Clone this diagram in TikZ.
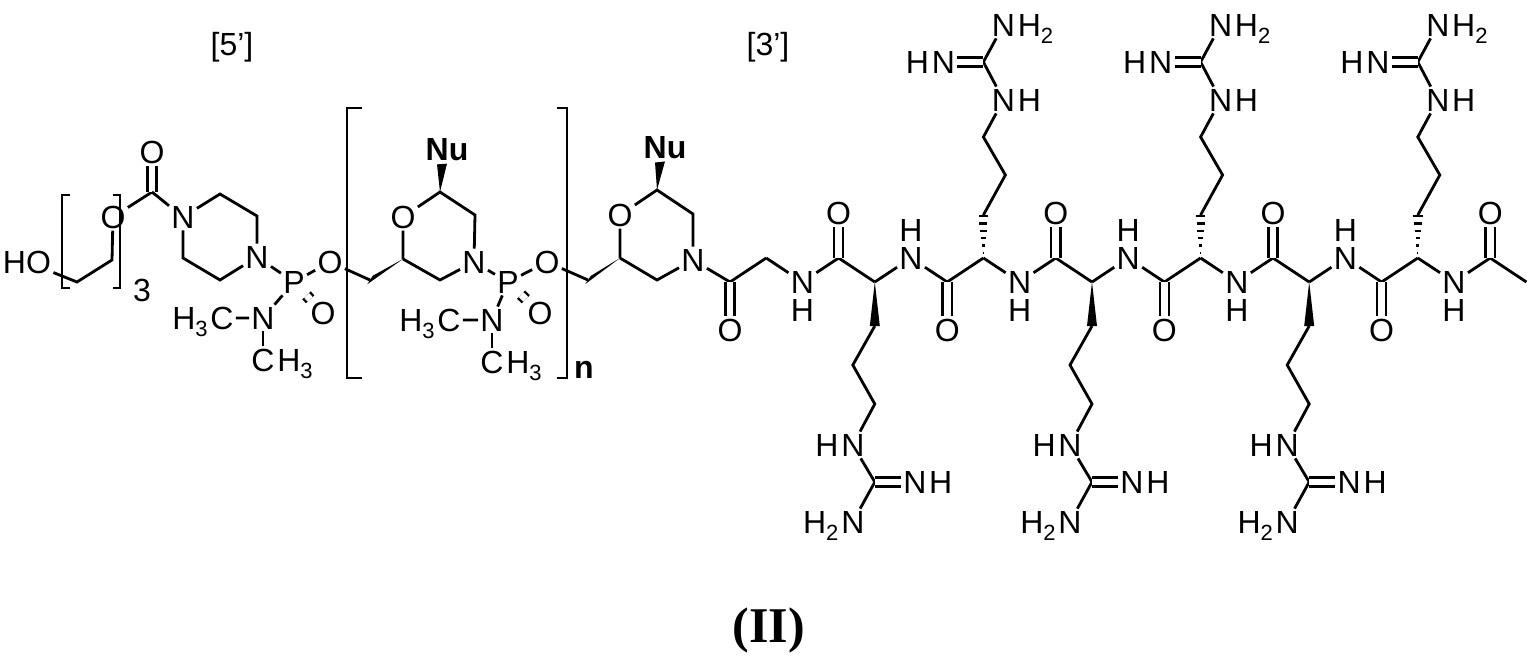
\documentclass[tikz,border=0pt]{standalone}
\usepackage{fontspec}
\setmainfont{Liberation Sans}
\newfontfamily\tnr{Liberation Serif}
\usetikzlibrary{calc}
\newcommand\sbs[1]{\raisebox{-0.45ex}{\fontsize{11}{11}\selectfont #1}}
\newcommand\wdg[3]{\fill let \p1=(#1),\p2=(#2),\n1={atan2(\y2-\y1,\x2-\x1)} in (\p1) -- ($(\p2)+({\n1+90}:#3)$) -- ($(\p2)+({\n1-90}:#3)$) -- cycle;}
\newcommand\hsh[2]{\foreach \t in {0.12,0.29,0.46,0.63,0.8,0.97}{\draw[line width=1.2pt] ($(#1)!\t!(#2)+(-\t*5,0)$) -- ($(#1)!\t!(#2)+(\t*5,0)$);}}
\begin{document}
\begin{tikzpicture}[x=0.5pt,y=-0.5pt,
  atom/.style={font=\fontsize{16}{16}\selectfont, inner sep=1pt},
  txt/.style={font=\fontsize{16}{16}\selectfont, inner sep=0pt},
  bond/.style={line width=1.4pt},
  dbl/.style={double, double distance=3.4pt, line width=1.2pt}]
\useasboundingbox (0,0) rectangle (1538,665);
\node[txt] (l5) at (232,47) {[5']};
\node[txt] (l3) at (768,47) {[3']};
\node[font=\tnr\bfseries\fontsize{25}{26}\selectfont] (lab) at (769,630) {(II)};
% PEG part
\node[atom] (ho) at (27,262) {HO};
\coordinate (e1) at (77,282);
\coordinate (e2) at (112,260);
\node[atom] (eo) at (113,217) {O};
\coordinate (cc) at (152,192);
\node[atom] (co) at (152,152) {O};
\draw[bond] (ho) -- (e1) -- (e2) -- (eo) -- (cc);
\draw[dbl] (cc) -- (co);
\draw[bond] (70,195) -- (62,195) -- (62,288) -- (70,288);
\draw[bond] (113,195) -- (120,195) -- (120,288) -- (113,288);
\node[txt] (three) at (142,290) {3};
% piperazine
\node[atom] (pn1) at (183,217) {N};
\coordinate (pc1) at (220,194);
\coordinate (pc2) at (257,216);
\node[atom] (pn4) at (257,257) {N};
\coordinate (pc3) at (220,280);
\coordinate (pc4) at (183,258);
\draw[bond] (cc) -- (pn1) -- (pc1) -- (pc2) -- (pn4) -- (pc3) -- (pc4) -- (pn1);
\node[atom] (p1) at (294,282) {P};
\node[atom] (p1o) at (330,262) {O};
\node[atom] (p1d) at (323,313) {O};
\node[atom] (p1n) at (263,318) {N};
\node[atom] (m1a) at (222,318) {C};
\node[txt,anchor=base east] at (m1a.base west) {H\sbs{3}};
\node[atom] (m1b) at (263,360) {C};
\node[txt,anchor=base west] at (m1b.base east) {H\sbs{3}};
\draw[bond] (pn4) -- (p1) -- (p1o);
\draw[dbl] (p1) -- (p1d);
\draw[bond] (p1) -- (p1n) -- (m1a);
\draw[bond] (p1n) -- (m1b);
% big brackets
\draw[bond] (362,108) -- (347,108) -- (347,378) -- (362,378);
\draw[bond] (557,108) -- (567,108) -- (567,378) -- (557,378);
\node[txt,font=\bfseries\fontsize{16}{16}\selectfont] (nn) at (584,370) {n};
% morpholine 1
\coordinate (h1) at (370,280);
\coordinate (r1a) at (403,259);
\node[atom] (r1o) at (403,217) {O};
\coordinate (r1b) at (440,192);
\node[atom,font=\bfseries\fontsize{16}{16}\selectfont] (nu1) at (447,150) {Nu};
\coordinate (nu1b) at (442,164);
\coordinate (r1c) at (475,215);
\node[atom] (r1n) at (474,262) {N};
\coordinate (r1d) at (440,280);
\draw[bond] (p1o) -- (h1);
\wdg{r1a}{h1}{5}
\wdg{r1b}{nu1b}{5}
\draw[bond] (r1a) -- (r1o) -- (r1b) -- (r1c) -- (r1n) -- (r1d) -- (r1a);
\node[atom] (p2) at (508,282) {P};
\node[atom] (p2o) at (547,262) {O};
\node[atom] (p2d) at (540,313) {O};
\node[atom] (p2n) at (492,320) {N};
\node[atom] (m2a) at (449,320) {C};
\node[txt,anchor=base east] at (m2a.base west) {H\sbs{3}};
\node[atom] (m2b) at (492,362) {C};
\node[txt,anchor=base west] at (m2b.base east) {H\sbs{3}};
\draw[bond] (r1n) -- (p2) -- (p2o);
\draw[dbl] (p2) -- (p2d);
\draw[bond] (p2) -- (p2n) -- (m2a);
\draw[bond] (p2n) -- (m2b);
% morpholine 2
\coordinate (h2) at (588,280);
\coordinate (r2a) at (620,258);
\node[atom] (r2o) at (620,215) {O};
\coordinate (r2b) at (657,190);
\node[atom,font=\bfseries\fontsize{16}{16}\selectfont] (nu2) at (665,148) {Nu};
\coordinate (nu2b) at (660,162);
\coordinate (r2c) at (693,214);
\node[atom] (r2n) at (693,260) {N};
\coordinate (r2d) at (657,280);
\draw[bond] (p2o) -- (h2);
\wdg{r2a}{h2}{5}
\wdg{r2b}{nu2b}{5}
\draw[bond] (r2a) -- (r2o) -- (r2b) -- (r2c) -- (r2n) -- (r2d) -- (r2a);
% backbone
\foreach \k in {0,...,22}{
  \pgfmathsetmacro\xx{730+36.2*\k}
  \pgfmathtruncatemacro\pty{mod(\k,2)}
  \pgfmathtruncatemacro\mth{mod(\k,3)}
  \ifnum\pty=0 \def\yy{282}\else\def\yy{258}\fi
  \ifnum\mth=2
    \node[atom] (a\k) at (\xx,\yy) {N};
    \ifnum\pty=0 \node[atom] (hh\k) at (\xx,\yy+28) {H};
    \else \node[atom] (hh\k) at (\xx,\yy-28) {H};\fi
  \else
    \coordinate (a\k) at (\xx,\yy);
  \fi
}
\draw[bond] (r2n) -- (a0);
\foreach \k [evaluate=\k as \j using int(\k+1)] in {0,...,21}{\draw[bond] (a\k) -- (a\j);}
\foreach \k in {0,3,...,21}{
  \pgfmathtruncatemacro\pty{mod(\k,2)}
  \ifnum\pty=0 \node[atom] (o\k) at ($(a\k)+(0,48)$) {O};
  \else \node[atom] (o\k) at ($(a\k)+(0,-45)$) {O};\fi
  \draw[dbl] (a\k) -- (o\k);
}
% side chains down
\foreach \k in {4,10,16}{
  \coordinate (s1\k) at ($(a\k)+(0,44)$);
  \coordinate (s2\k) at ($(a\k)+(-22,83)$);
  \coordinate (s3\k) at ($(a\k)+(0,122)$);
  \node[atom] (sn\k) at ($(a\k)+(-22,163)$) {N};
  \node[txt,anchor=base east] at (sn\k.base west) {H};
  \coordinate (sg\k) at ($(a\k)+(0,200)$);
  \node[atom] (se\k) at ($(a\k)+(40,200)$) {N};
  \node[txt,anchor=base west] at (se\k.base east) {H};
  \node[atom] (sa\k) at ($(a\k)+(-22,240)$) {N};
  \node[txt,anchor=base east] at (sa\k.base west) {H\sbs{2}};
  \wdg{a\k}{s1\k}{5}
  \draw[bond] (s1\k) -- (s2\k) -- (s3\k) -- (sn\k) -- (sg\k) -- (sa\k);
  \draw[dbl] (sg\k) -- (se\k);
}
% side chains up
\foreach \k in {7,13,19}{
  \coordinate (s1\k) at ($(a\k)+(0,-43)$);
  \coordinate (s2\k) at ($(a\k)+(22,-83)$);
  \coordinate (s3\k) at ($(a\k)+(0,-121)$);
  \node[atom] (sn\k) at ($(a\k)+(20,-158)$) {N};
  \node[txt,anchor=base west] at (sn\k.base east) {H};
  \coordinate (sg\k) at ($(a\k)+(0,-196)$);
  \node[atom] (se\k) at ($(a\k)+(-40,-196)$) {N};
  \node[txt,anchor=base east] at (se\k.base west) {H};
  \node[atom] (sa\k) at ($(a\k)+(20,-233)$) {N};
  \node[txt,anchor=base west] at (sa\k.base east) {H\sbs{2}};
  \hsh{a\k}{s1\k}
  \draw[bond] (s1\k) -- (s2\k) -- (s3\k) -- (sn\k) -- (sg\k) -- (sa\k);
  \draw[dbl] (sg\k) -- (se\k);
}
\end{tikzpicture}
\end{document}
